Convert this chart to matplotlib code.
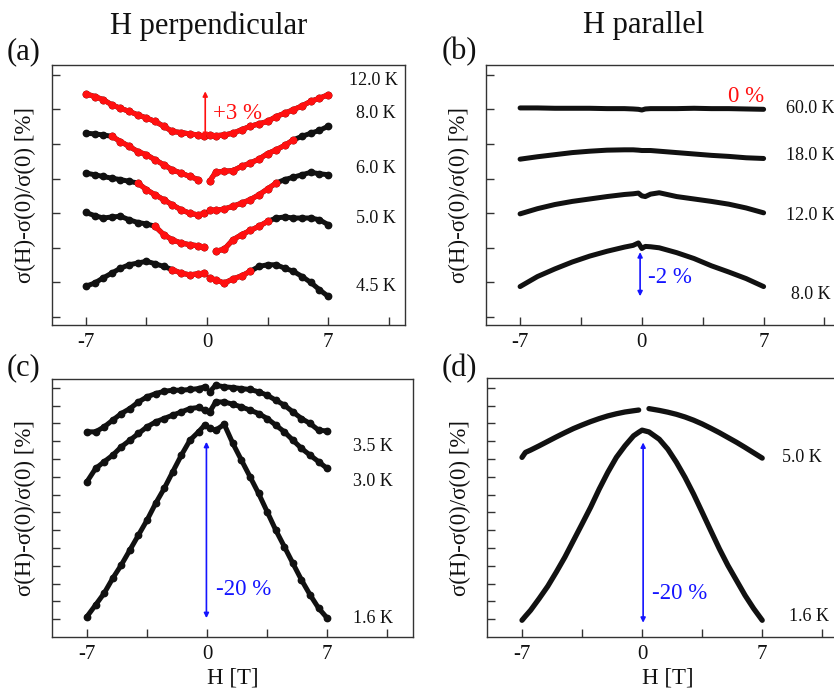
import numpy as np
import matplotlib
matplotlib.use("Agg")
import matplotlib.pyplot as plt

plt.rcParams["font.family"] = ["Liberation Serif", "DejaVu Serif"]

RED = "#ff1010"
BLUE = "#1414ff"
INK = "#111111"

# ---- (a) H perpendicular, y in tick units (curves offset) ----
H_A = [-7, -6.5, -6, -5.5, -5, -4.5, -4, -3.5, -3, -2.5, -2, -1.5, -1, -0.5, -0.15,
       0.15, 0.5, 1, 1.5, 2, 2.5, 3, 3.5, 4, 4.5, 5, 5.5, 6, 6.5, 7]
A_12K = [6.45, 6.37, 6.28, 6.13, 6.03, 5.94, 5.84, 5.75, 5.65, 5.51, 5.36, 5.33, 5.29, 5.26, 5.22,
         5.26, 5.24, 5.26, 5.31, 5.41, 5.51, 5.58, 5.65, 5.79, 5.89, 5.99, 6.10, 6.23, 6.32, 6.42]
A_8K = [5.31, 5.29, 5.26, 5.22, 5.07, 4.93, 4.78, 4.69, 4.54, 4.40, 4.25, 4.16, 4.06, 3.97, np.nan,
        3.92, 4.18, 4.21, 4.23, 4.35, 4.45, 4.56, 4.72, 4.83, 4.96, 5.12, 5.22, 5.31, 5.39, 5.51]
A_6K = [4.16, 4.11, 4.06, 4.01, 3.97, 3.92, 3.87, 3.68, 3.53, 3.39, 3.24, 3.10, 3.00, 2.95, 3.00,
        3.10, 3.08, 3.12, 3.20, 3.29, 3.39, 3.53, 3.70, 3.87, 3.97, 4.04, 4.11, 4.18, 4.14, 4.11]
A_5K = [3.02, 2.93, 2.86, 2.89, 2.91, 2.81, 2.73, 2.69, 2.62, 2.38, 2.23, 2.14, 2.09, 2.06, 2.02,
        np.nan, 1.90, 1.96, 2.23, 2.38, 2.50, 2.62, 2.76, 2.86, 2.89, 2.86, 2.86, 2.86, 2.81, 2.67]
A_45K = [0.89, 0.98, 1.13, 1.27, 1.41, 1.51, 1.56, 1.61, 1.54, 1.46, 1.37, 1.27, 1.22, 1.25, 1.27,
         1.12, 1.08, 0.98, 1.10, 1.19, 1.32, 1.46, 1.51, 1.51, 1.41, 1.32, 1.17, 1.00, 0.79, 0.60]
A_SERIES = [A_12K, A_8K, A_6K, A_5K, A_45K]
A_RED_RANGE = [(-7, 7), (-5.5, 5.2), (-4.05, 4.15), (-3.0, 3.57), (-2.3, 2.6)]
A_TEMPS = ["12.0 K", "8.0 K", "6.0 K", "5.0 K", "4.5 K"]

# ---- (b) H parallel ----
H_B = [-7, -6, -5, -4, -3, -2, -1, -0.5, -0.2, 0, 0.2, 0.5, 1, 2, 3, 4, 5, 6, 7]
B_60K = [6.04, 6.04, 6.03, 6.03, 6.03, 6.02, 6.02, 6.01, 6.00, 5.98, 6.01, 6.02, 6.02, 6.02, 6.03, 6.02, 6.02, 6.01, 6.00]
B_18K = [4.56, 4.63, 4.69, 4.75, 4.79, 4.82, 4.83, 4.83, 4.82, 4.81, 4.81, 4.81, 4.79, 4.75, 4.71, 4.67, 4.64, 4.60, 4.58]
B_12K = [2.98, 3.13, 3.25, 3.34, 3.41, 3.48, 3.54, 3.56, 3.58, 3.50, 3.48, 3.55, 3.59, 3.48, 3.41, 3.34, 3.26, 3.15, 3.01]
B_8K = [0.88, 1.17, 1.39, 1.59, 1.76, 1.90, 2.02, 2.07, 2.14, 1.98, 2.04, 2.03, 2.00, 1.86, 1.69, 1.48, 1.30, 1.11, 0.88]
B_SERIES = [B_60K, B_18K, B_12K, B_8K]
B_TEMPS = ["60.0 K", "18.0 K", "12.0 K", "8.0 K"]

# ---- (c) H perpendicular, low T ----
H_C = H_A
C_35K = [10.53, 10.53, 10.81, 11.19, 11.56, 11.84, 12.21, 12.50, 12.68, 12.81, 12.87, 12.87, 12.91, 12.96, 13.06,
         12.78, 13.15, 13.06, 13.02, 12.96, 12.91, 12.78, 12.59, 12.31, 12.03, 11.65, 11.28, 11.00, 10.62, 10.58]
C_30K = [7.73, 8.47, 8.85, 9.22, 9.69, 10.06, 10.44, 10.81, 11.09, 11.28, 11.47, 11.65, 11.84, 11.90, 11.75,
         11.65, 12.21, 12.21, 12.08, 11.93, 11.75, 11.56, 11.28, 10.91, 10.53, 10.06, 9.60, 9.22, 8.85, 8.47]
C_16K = [0.15, 0.80, 1.46, 2.30, 3.05, 3.89, 4.73, 5.57, 6.51, 7.35, 8.29, 9.22, 10.06, 10.53, 10.90,
         10.72, 10.62, 10.95, 9.88, 8.94, 8.01, 7.07, 6.04, 5.01, 4.08, 3.14, 2.21, 1.37, 0.62, 0.06]
C_SERIES = [C_35K, C_30K, C_16K]
C_TEMPS = ["3.5 K", "3.0 K", "1.6 K"]

# ---- (d) H parallel, low T ----
H_D = [-7, -6.8, -6.5, -6, -5.5, -5, -4.5, -4, -3.5, -3, -2.5, -2, -1.5, -1, -0.5, -0.2, 0,
       0.4, 1, 1.5, 2, 2.5, 3, 3.5, 4, 4.5, 5, 5.5, 6, 6.5, 7]
D_5K = [9.09, 9.37, 9.50, 9.74, 9.99, 10.24, 10.48, 10.71, 10.91, 11.10, 11.27, 11.42, 11.54, 11.64, 11.71, 11.75, np.nan,
        11.83, 11.73, 11.63, 11.51, 11.36, 11.18, 10.97, 10.73, 10.48, 10.21, 9.94, 9.65, 9.35, 9.05]
D_16K = [-0.06, 0.17, 0.50, 1.16, 1.85, 2.65, 3.49, 4.42, 5.35, 6.29, 7.31, 8.25, 9.09, 9.74, 10.30, 10.50, 10.62,
         10.52, 10.11, 9.55, 8.81, 7.97, 7.03, 6.01, 4.98, 3.96, 3.02, 2.18, 1.34, 0.60, -0.06]
D_SERIES = [D_5K, D_16K]
D_TEMPS = ["5.0 K", "1.6 K"]


def style_axes(ax, xlim, ylim, nticks):
    ax.set_xlim(*xlim)
    ax.set_ylim(*ylim)
    ax.set_xticks([-7, -3.5, 0, 3.5, 7, 10.5])
    ax.set_xticklabels(["-7", "", "0", "", "7", ""])
    ax.set_yticks(range(nticks))
    ax.tick_params(direction="in", length=6, width=1, colors="#333333",
                   labelleft=False, labelsize=15, labelcolor=INK, pad=6)
    for sp in ax.spines.values():
        sp.set_color("#333333")
        sp.set_linewidth(1.0)
    ax.set_ylabel("σ(H)-σ(0)/σ(0) [%]", fontsize=16.5, color=INK)
    ax.yaxis.set_label_coords(-0.045, 0.5)


def plot_noisy(ax, H, y, lo, hi):
    H = np.array(H, dtype=float)
    y = np.array(y, dtype=float)
    for side in (H < 0, H > 0):
        hs, ys = H[side], y[side]
        ax.plot(hs, ys, color=INK, lw=3.6, marker="o", ms=4.6, solid_joinstyle="round",
                solid_capstyle="round")
        red = (hs >= lo) & (hs <= hi)
        ax.plot(hs, np.where(red, ys, np.nan), color=RED, lw=3.6, marker="o", ms=4.6,
                solid_joinstyle="round", solid_capstyle="round")


fig = plt.figure(figsize=(8.34, 6.94), dpi=100)
W, Hh = 834.0, 694.0

ax_a = fig.add_axes([52 / W, 1 - 325 / Hh, 353 / W, 260 / Hh])
ax_b = fig.add_axes([486 / W, 1 - 325 / Hh, 355 / W, 260 / Hh])
ax_c = fig.add_axes([52 / W, 1 - 637 / Hh, 361 / W, 258 / Hh])
ax_d = fig.add_axes([487 / W, 1 - 637 / Hh, 361 / W, 259 / Hh])

style_axes(ax_a, (-8.96, 11.45), (-0.23, 7.28), 8)
style_axes(ax_b, (-8.96, 11.45), (-0.23, 7.28), 8)
style_axes(ax_c, (-9.04, 12.0), (-1.0, 13.5), 14)
style_axes(ax_d, (-9.04, 12.0), (-1.0, 13.55), 14)
ax_c.set_xlabel("H [T]", fontsize=16.5, color=INK, labelpad=2)
ax_d.set_xlabel("H [T]", fontsize=16.5, color=INK, labelpad=2)

# (a)
for ys, (lo, hi) in zip(A_SERIES, A_RED_RANGE):
    plot_noisy(ax_a, H_A, ys, lo, hi)
for txt, (tx, ty) in zip(A_TEMPS, [(8.2, 6.83), (8.6, 5.87), (8.6, 4.30), (8.6, 2.84), (8.6, 0.87)]):
    ax_a.text(tx, ty, txt, fontsize=13, color=INK, va="center")
ax_a.annotate("", xy=(-0.1, 6.52), xytext=(-0.1, 5.17),
              arrowprops=dict(arrowstyle="<|-|>", color=RED, lw=1.2, mutation_scale=7,
                              shrinkA=0, shrinkB=0))
ax_a.text(0.35, 5.89, "+3 %", fontsize=16.5, color=RED, va="center")

# (b)
for ys in B_SERIES:
    ax_b.plot(H_B, ys, color=INK, lw=3.6, solid_capstyle="round", solid_joinstyle="round")
for txt, (tx, ty) in zip(B_TEMPS, [(8.29, 6.01), (8.29, 4.66), (8.29, 2.93), (8.6, 0.65)]):
    ax_b.text(tx, ty, txt, fontsize=13, color=INK, va="center")
ax_b.annotate("", xy=(-0.1, 1.875), xytext=(-0.1, 0.60),
              arrowprops=dict(arrowstyle="<|-|>", color=BLUE, lw=1.2, mutation_scale=7,
                              shrinkA=0, shrinkB=0))
ax_b.text(0.33, 1.15, "-2 %", fontsize=16.5, color=BLUE, va="center")
ax_b.text(7.05, 6.37, "0 %", fontsize=16.5, color=RED, va="center", ha="right")

# (c)
for ys in C_SERIES:
    Hc = np.array(H_C)
    yc = np.array(ys)
    for side in (Hc < 0, Hc > 0):
        ax_c.plot(Hc[side], yc[side], color=INK, lw=3.6, marker="o", ms=4.6,
                  solid_joinstyle="round", solid_capstyle="round")
for txt, (tx, ty) in zip(C_TEMPS, [(8.52, 9.69), (8.52, 7.73), (8.52, 0.06)]):
    ax_c.text(tx, ty, txt, fontsize=13, color=INK, va="center")
ax_c.annotate("", xy=(-0.04, 9.97), xytext=(-0.04, 0.06),
              arrowprops=dict(arrowstyle="<|-|>", color=BLUE, lw=1.2, mutation_scale=7,
                              shrinkA=0, shrinkB=0))
ax_c.text(0.49, 1.65, "-20 %", fontsize=16.5, color=BLUE, va="center")

# (d)
for ys in D_SERIES:
    ax_d.plot(H_D, ys, color=INK, lw=3.8, solid_capstyle="round", solid_joinstyle="round")
for txt, (tx, ty) in zip(D_TEMPS, [(8.17, 9.09), (8.56, 0.17)]):
    ax_d.text(tx, ty, txt, fontsize=13, color=INK, va="center")
ax_d.annotate("", xy=(0.06, 9.93), xytext=(0.06, -0.2),
              arrowprops=dict(arrowstyle="<|-|>", color=BLUE, lw=1.2, mutation_scale=7,
                              shrinkA=0, shrinkB=0))
ax_d.text(0.58, 1.44, "-20 %", fontsize=16.5, color=BLUE, va="center")

# column titles and panel letters
fig.text(209 / W, 1 - 26 / Hh, "H perpendicular", fontsize=22, ha="center", va="center", color=INK)
fig.text(644 / W, 1 - 26 / Hh, "H parallel", fontsize=22, ha="center", va="center", color=INK)
for letter, (px, py) in zip(["(a)", "(b)", "(c)", "(d)"],
                            [(7, 52), (442, 52), (7, 368), (442, 369)]):
    fig.text(px / W, 1 - py / Hh, letter, fontsize=22, ha="left", va="center", color=INK)

fig.savefig("out.png", dpi=100, facecolor="white")
